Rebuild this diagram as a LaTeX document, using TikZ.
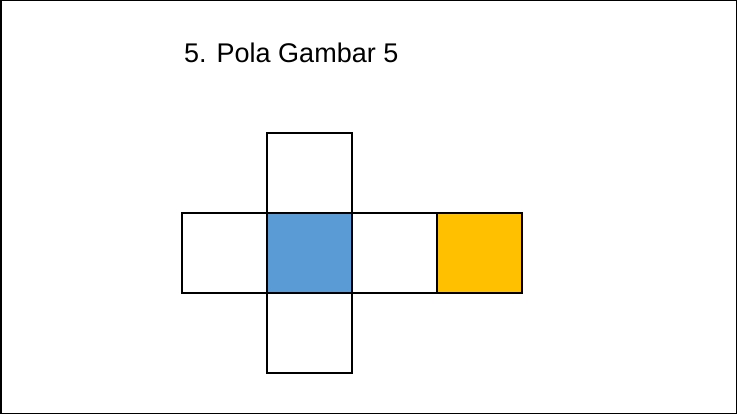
\documentclass[tikz,border=0pt]{standalone}
\usepackage{fontspec}
\setmainfont{Liberation Sans}
\definecolor{faceblue}{HTML}{5B9BD5}
\definecolor{faceyellow}{HTML}{FFC000}
\begin{document}
\begin{tikzpicture}[x=1pt,y=-1pt,
  face/.style={draw=black,line width=2pt,minimum width=85pt,minimum height=80pt,inner sep=0pt,outer sep=0pt},
  title/.style={anchor=base west,inner sep=0pt,font=\fontsize{27}{32}\selectfont}]
\useasboundingbox (0,0) rectangle (737,414);
\draw[line width=1.5pt] (0.75,0.75) rectangle (736.25,413.25);
\node[title] (t) at (184,63) {5. Pola Gambar 5};
\node[face] (top) at (309.2,173.3) {};
\node[face] (left) at (224.7,253.3) {};
\node[face,fill=faceblue] (mid) at (309.2,253.3) {};
\node[face] (right) at (394.2,253.3) {};
\node[face,fill=faceyellow] (far) at (479.2,253.3) {};
\node[face] (bot) at (309.2,332.8) {};
\end{tikzpicture}
\end{document}
